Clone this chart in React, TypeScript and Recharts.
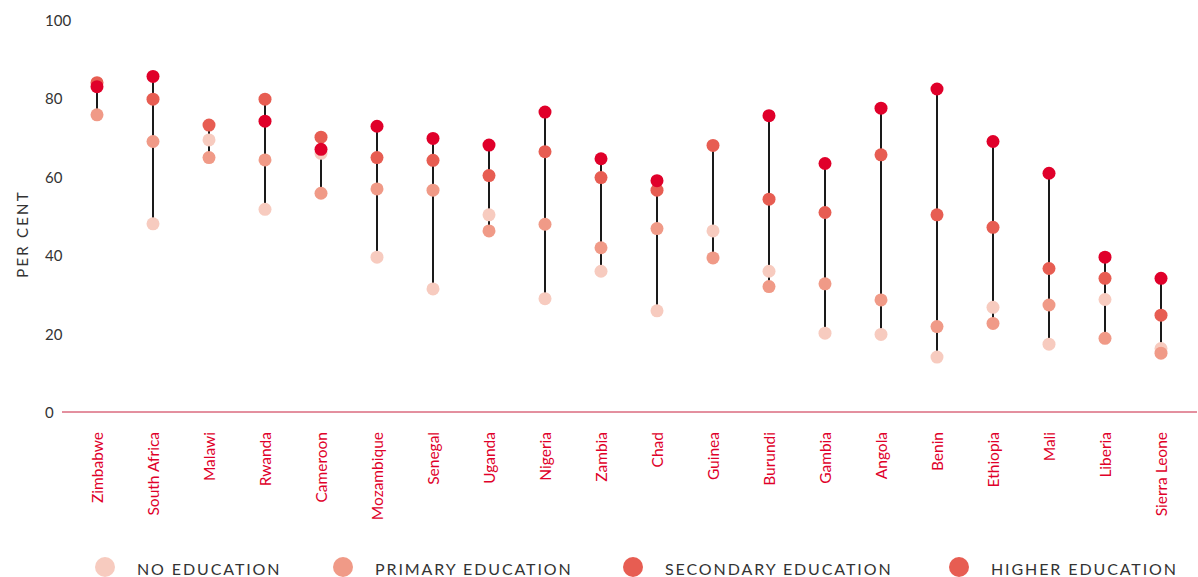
import React from "react";
import { Bar, ComposedChart, Label, Line, XAxis, YAxis } from "recharts";

const countries = [
  "Zimbabwe", "South Africa", "Malawi", "Rwanda", "Cameroon", "Mozambique", "Senegal",
  "Uganda", "Nigeria", "Zambia", "Chad", "Guinea", "Burundi", "Gambia", "Angola",
  "Benin", "Ethiopia", "Mali", "Liberia", "Sierra Leone",
];
const noEducation = [null, 48.0, 69.4, 51.7, 66.0, 39.5, 31.4, 50.3, 28.9, 35.9, 25.8, 46.2, 35.9, 20.1, 19.8, 14.0, 26.7, 17.3, 28.7, 16.2];
const primaryEducation = [75.8, 69.0, 64.9, 64.3, 55.8, 56.9, 56.6, 46.2, 47.9, 41.9, 46.8, 39.3, 32.0, 32.7, 28.6, 21.8, 22.6, 27.3, 18.8, 15.0];
const secondaryEducation = [84.0, 79.8, 73.2, 79.8, 70.1, 64.9, 64.2, 60.3, 66.4, 59.8, 56.6, 68.0, 54.3, 50.9, 65.6, 50.3, 47.1, 36.6, 34.1, 24.7];
const higherEducation = [83.0, 85.6, null, 74.2, 67.0, 72.9, 69.8, 68.1, 76.5, 64.6, 59.0, null, 75.6, 63.4, 77.5, 82.4, 69.0, 60.9, 39.5, 34.1];
const yTicks = [0, 20, 40, 60, 80, 100];

const series = [
  { key: "none", label: "NO EDUCATION", color: "#f7cbbf", legend: "#f7cbbf" },
  { key: "primary", label: "PRIMARY EDUCATION", color: "#f09a87", legend: "#f09a87" },
  { key: "secondary", label: "SECONDARY EDUCATION", color: "#e75d52", legend: "#e75d52" },
  { key: "higher", label: "HIGHER EDUCATION", color: "#e0002a", legend: "#e75d52" },
];
const legendLeft = [95, 333, 623, 949];

const data = countries.map((name, i) => {
  const vals = [noEducation[i], primaryEducation[i], secondaryEducation[i], higherEducation[i]].filter(
    (v): v is number => v != null
  );
  return {
    name,
    none: noEducation[i],
    primary: primaryEducation[i],
    secondary: secondaryEducation[i],
    higher: higherEducation[i],
    range: [Math.min(...vals), Math.max(...vals)],
  };
});

const font = "Lato, 'Open Sans', sans-serif";

const YTick = ({ y, payload }: any) => (
  <text x={45} y={y} textAnchor="start" dominantBaseline="central" fill="#333" fontSize={15} fontFamily={font}>
    {payload.value}
  </text>
);

const XTick = ({ x, y, payload }: any) => {
  const ty = y + 12;
  return (
    <text
      x={x}
      y={ty}
      transform={`rotate(-90, ${x}, ${ty})`}
      textAnchor="end"
      dominantBaseline="central"
      fill="#e0002a"
      fontSize={15.5}
      fontFamily={font}
    >
      {payload.value}
    </text>
  );
};

export default function App() {
  return (
    <div style={{ position: "absolute", left: 0, top: 0, width: 1198, height: 577, overflow: "hidden", background: "#fff" }}>
      <ComposedChart width={1198} height={577} data={data} margin={{ top: 20, right: 1, left: 0, bottom: 0 }}>
        <XAxis
          dataKey="name"
          interval={0}
          height={165}
          tickLine={false}
          axisLine={{ stroke: "#c8213f", strokeWidth: 1 }}
          padding={{ left: 7, right: 8 }}
          tick={<XTick />}
        />
        <YAxis domain={[0, 100]} ticks={yTicks} width={62} axisLine={false} tickLine={false} tick={<YTick />}>
          <Label
            content={() => (
              <text
                x={22}
                y={234}
                transform="rotate(-90, 22, 234)"
                textAnchor="middle"
                dominantBaseline="central"
                fill="#333"
                fontSize={15}
                letterSpacing={2.2}
                fontFamily={font}
              >
                PER CENT
              </text>
            )}
          />
        </YAxis>
        <Bar dataKey="range" barSize={2} fill="#1a1a1a" isAnimationActive={false} />
        {series.map((s) => (
          <Line
            key={s.key}
            dataKey={s.key}
            stroke="none"
            dot={{ r: 6.5, fill: s.color, stroke: "none" }}
            activeDot={false}
            isAnimationActive={false}
          />
        ))}
      </ComposedChart>
      {series.map((s, i) => (
        <div
          key={s.key}
          style={{
            position: "absolute",
            left: legendLeft[i],
            top: 557,
            display: "flex",
            alignItems: "center",
            height: 20,
            fontFamily: font,
            fontSize: 16,
            letterSpacing: 1.9,
            color: "#333",
            whiteSpace: "nowrap",
          }}
        >
          <span style={{ width: 20, height: 20, borderRadius: 10, background: s.legend, marginRight: 22, flex: "none" }} />
          <span style={{ position: "relative", top: 1 }}>{s.label}</span>
        </div>
      ))}
    </div>
  );
}
